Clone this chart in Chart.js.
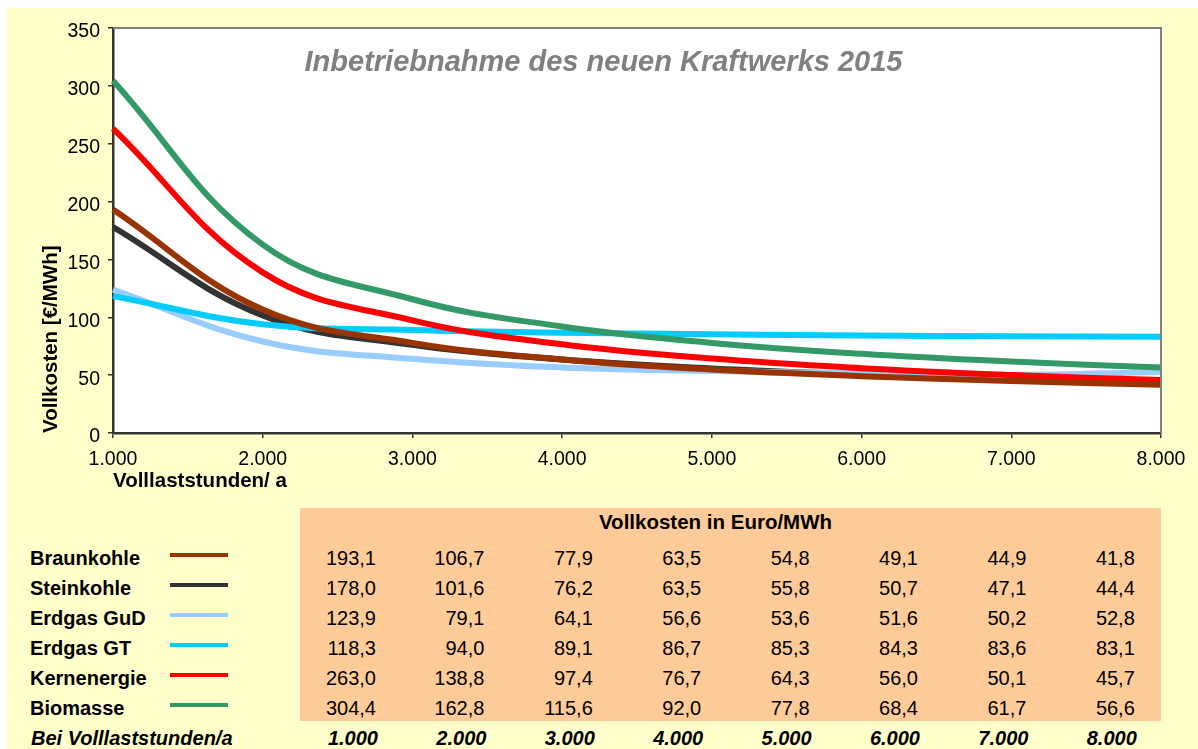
<!DOCTYPE html>
<html><head><meta charset="utf-8">
<script src="https://cdn.jsdelivr.net/npm/chart.js@4"></script>
<style>
html,body{margin:0;padding:0;background:#fff;width:1198px;height:749px;overflow:hidden;font-family:"Liberation Sans",Arial,Helvetica,sans-serif;color:#000;}
#bg{position:absolute;left:7px;top:8px;width:1191px;height:741px;background:#FFFFCC;}
#wrap{position:absolute;left:0;top:0;width:1198px;height:500px;}
.t{position:absolute;white-space:nowrap;}
#title{left:603.5px;top:47px;transform:translateX(-50%);font-size:29px;line-height:29px;font-weight:bold;font-style:italic;color:#808080;}
#tbg{position:absolute;left:300px;top:508px;width:861px;height:213px;background:#FFCC99;}
</style></head><body>
<div id="bg"></div>
<div id="tbg"></div>
<div id="wrap"><canvas id="c" width="1198" height="500"></canvas></div>
<div id="title" class="t">Inbetriebnahme des neuen Kraftwerks 2015</div>
<div id="table"></div>
<script>
// ---- data ----
const hourLabels = ['1.000','2.000','3.000','4.000','5.000','6.000','7.000','8.000'];
const seriesNames = ['Braunkohle','Steinkohle','Erdgas GuD','Erdgas GT','Kernenergie','Biomasse'];
const braunkohle = [193.1,106.7,77.9,63.5,54.8,49.1,44.9,41.8];
const steinkohle = [178.0,101.6,76.2,63.5,55.8,50.7,47.1,44.4];
const erdgasGuD  = [123.9,79.1,64.1,56.6,53.6,51.6,50.2,52.8];
const erdgasGT   = [118.3,94.0,89.1,86.7,85.3,84.3,83.6,83.1];
const kernenergie= [263.0,138.8,97.4,76.7,64.3,56.0,50.1,45.7];
const biomasse   = [304.4,162.8,115.6,92.0,77.8,68.4,61.7,56.6];
const yTicks = [0,50,100,150,200,250,300,350];

// ---- styles ----
const seriesValues = [braunkohle, steinkohle, erdgasGuD, erdgasGT, kernenergie, biomasse];
const seriesColors = ['#993300','#333333','#99CCFF','#00CCFF','#FF0000','#339966'];
const drawOrder = [0,5,4,3,1,2];
const FONT = '"Liberation Sans", Arial, Helvetica, sans-serif';

const fmt = v => v.toFixed(1).replace('.', ',');

const plotFrame = {
  id: 'plotFrame',
  beforeDraw(chart) {
    const {ctx, chartArea: a} = chart;
    ctx.save();
    ctx.fillStyle = '#FFFFFF';
    ctx.fillRect(a.left, a.top, a.right - a.left, a.bottom - a.top);
    ctx.restore();
  },
  afterDraw(chart) {
    const {ctx, chartArea: a} = chart;
    ctx.save();
    ctx.strokeStyle = '#808080';
    ctx.lineWidth = 2;
    ctx.beginPath();
    ctx.moveTo(a.left, a.top);
    ctx.lineTo(a.right, a.top);
    ctx.lineTo(a.right, a.bottom);
    ctx.stroke();
    ctx.restore();
  }
};

new Chart(document.getElementById('c'), {
  type: 'line',
  data: {
    labels: hourLabels,
    datasets: seriesNames.map((n, i) => ({
      label: n,
      data: seriesValues[i],
      borderColor: seriesColors[i],
      backgroundColor: seriesColors[i],
      borderWidth: 6,
      pointRadius: 0,
      pointHoverRadius: 0,
      tension: 0.4,
      fill: false,
      order: drawOrder[i]
    }))
  },
  options: {
    responsive: false,
    animation: false,
    devicePixelRatio: 1,
    layout: {padding: {left: 0, top: 28, right: 37, bottom: 0}},
    plugins: {legend: {display: false}, tooltip: {enabled: false}, title: {display: false}},
    scales: {
      x: {
        type: 'category',
        offset: false,
        afterFit(s) { s.height = 67; },
        grid: {drawOnChartArea: false, drawTicks: true, tickLength: 5, color: '#333333', lineWidth: 1.5, offset: false},
        border: {display: true, color: '#333333', width: 2.5},
        ticks: {color: '#000', font: {family: FONT, size: 19.5, lineHeight: 1.2}, padding: 10, maxRotation: 0, autoSkip: false},
        title: {display: true, text: 'Volllaststunden/ a', align: 'start', color: '#000',
          font: {family: FONT, size: 20.5, weight: 'bold', lineHeight: 1}, padding: {top: 0, bottom: 8}}
      },
      y: {
        min: 0, max: 350,
        afterFit(s) { s.width = 113; },
        afterBuildTicks(s) { s.ticks = yTicks.map(v => ({value: v})); },
        grid: {drawOnChartArea: false, drawTicks: true, tickLength: 5, color: '#333333', lineWidth: 1.5},
        border: {display: true, color: '#333333', width: 2.5},
        ticks: {color: '#000', font: {family: FONT, size: 19.5}, padding: 8, labelOffset: 4},
        title: {display: true, text: 'Vollkosten [€/MWh]', align: 'start', color: '#000',
          font: {family: FONT, size: 20.5, weight: 'bold', lineHeight: 1}, padding: {top: 41, bottom: 0}}
      }
    }
  },
  plugins: [plotFrame]
});

// ---- table below the chart ----
const tbl = document.getElementById('table');
function addText(txt, opts) {
  const d = document.createElement('div');
  d.className = 't';
  d.textContent = txt;
  const size = opts.size || 20;
  d.style.fontSize = size + 'px';
  d.style.lineHeight = size + 'px';
  d.style.top = (opts.cy - size / 2) + 'px';
  if (opts.left !== undefined) d.style.left = opts.left + 'px';
  if (opts.right !== undefined) d.style.right = (1198 - opts.right) + 'px';
  if (opts.center !== undefined) { d.style.left = opts.center + 'px'; d.style.transform = 'translateX(-50%)'; }
  if (opts.bold) d.style.fontWeight = 'bold';
  if (opts.italic) d.style.fontStyle = 'italic';
  tbl.appendChild(d);
}
addText('Vollkosten in Euro/MWh', {cy: 522.5, center: 715.5, bold: true, size: 20.5});
const colRight = i => 376 + 108.4 * i;
seriesNames.forEach((n, r) => {
  const cy = 557.5 + 30 * r;
  addText(n, {cy, left: 30, bold: true});
  const ln = document.createElement('div');
  ln.style.cssText = `position:absolute;left:170px;top:${cy - 5}px;width:58px;height:4px;background:${seriesColors[r]};`;
  tbl.appendChild(ln);
  seriesValues[r].forEach((v, c) => addText(fmt(v), {cy, right: colRight(c)}));
});
addText('Bei Volllaststunden/a', {cy: 738, left: 31, bold: true, italic: true});
hourLabels.forEach((h, c) => addText(h, {cy: 738, right: colRight(c) + 2, bold: true, italic: true}));
</script>
</body></html>
